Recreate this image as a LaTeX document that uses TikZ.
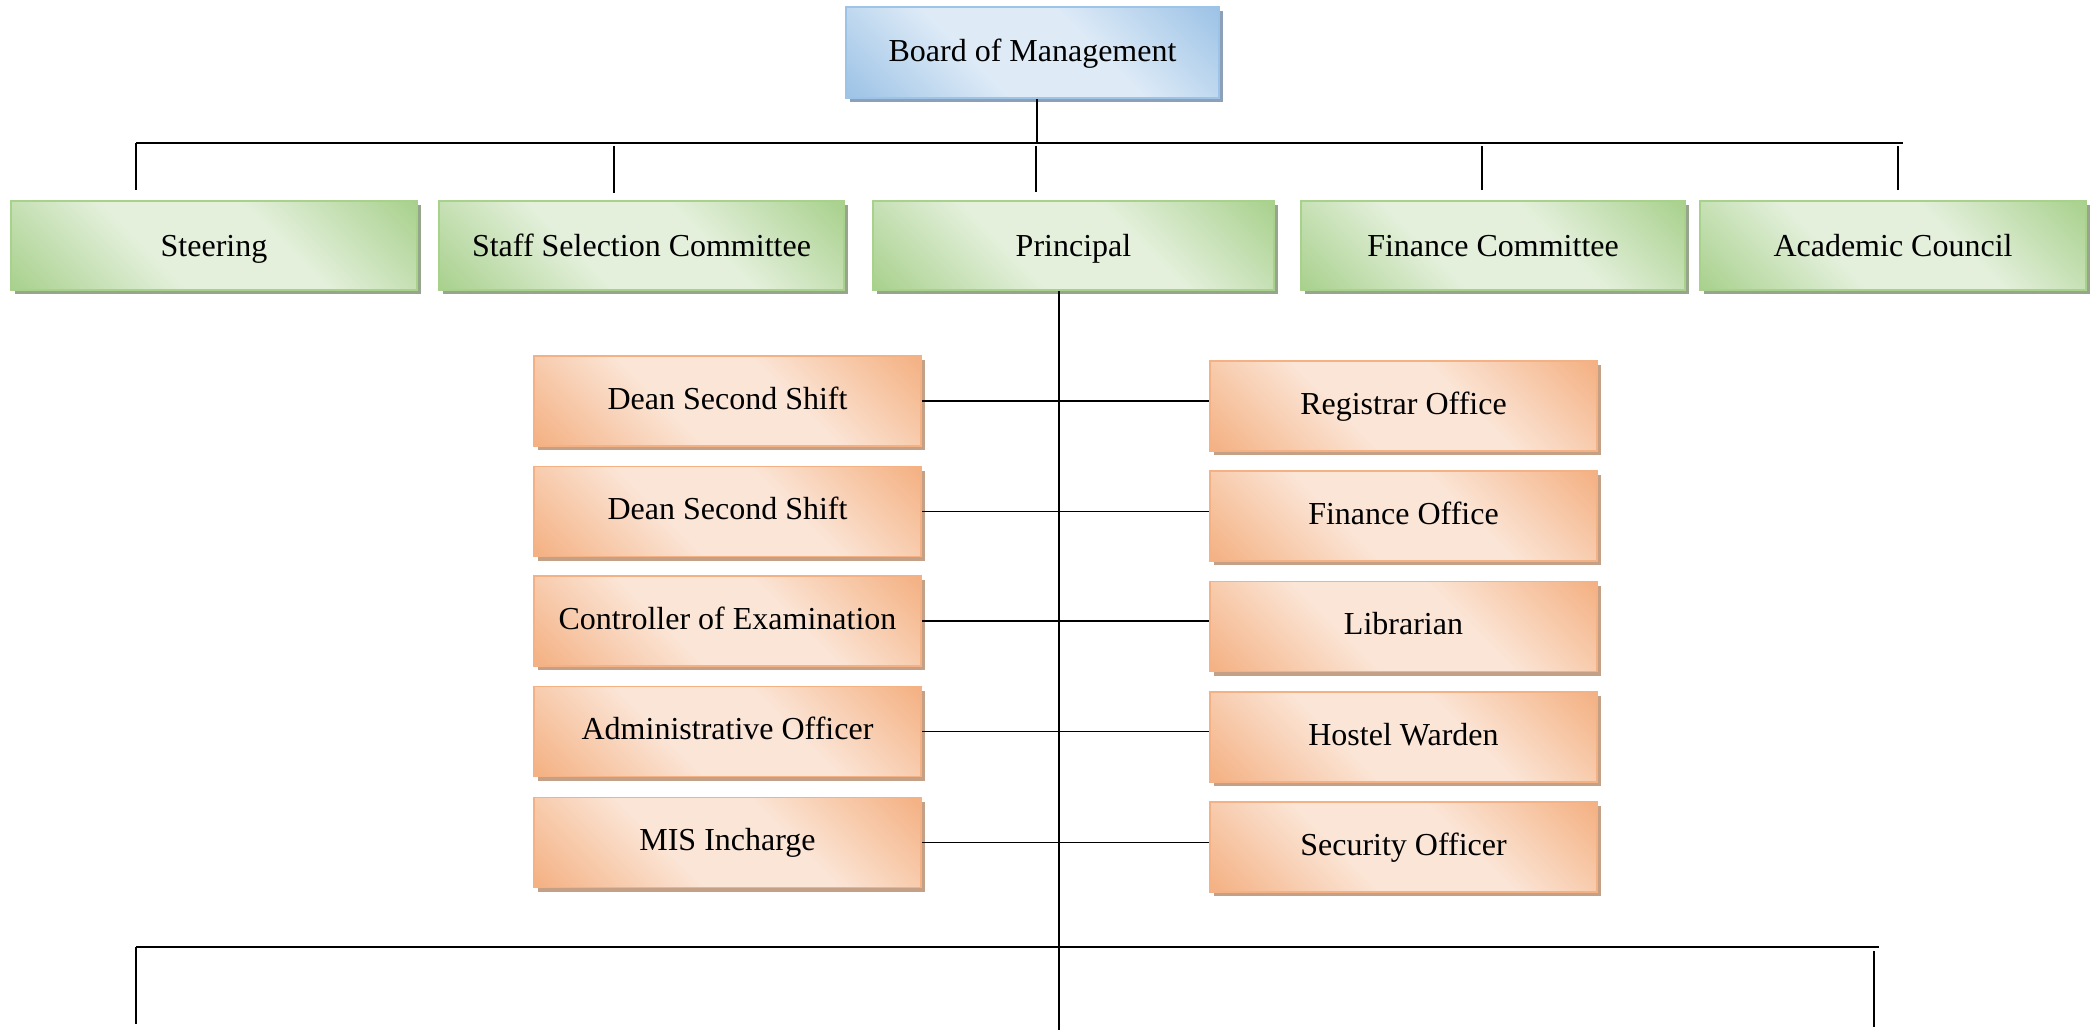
\documentclass[tikz,border=0pt]{standalone}
\usepackage{fontspec}
\setmainfont{Liberation Serif}
\usetikzlibrary{shadows}
\definecolor{gdark}{RGB}{169,209,142}
\definecolor{glight}{RGB}{228,240,220}
\definecolor{gborder}{RGB}{168,210,140}
\definecolor{gshadow}{RGB}{150,165,140}
\definecolor{bdark}{RGB}{157,195,230}
\definecolor{blight}{RGB}{222,235,247}
\definecolor{bborder}{RGB}{157,195,230}
\definecolor{bshadow}{RGB}{140,160,185}
\definecolor{odark}{RGB}{244,177,131}
\definecolor{olight}{RGB}{251,229,214}
\definecolor{oborder}{RGB}{244,177,131}
\definecolor{oshadow}{RGB}{196,160,134}
\pgfdeclareverticalshading{gshade}{100bp}{color(0bp)=(gdark); color(15bp)=(gdark); color(40bp)=(glight); color(60bp)=(glight); color(85bp)=(gdark); color(100bp)=(gdark)}
\pgfdeclareverticalshading{bshade}{100bp}{color(0bp)=(bdark); color(15bp)=(bdark); color(40bp)=(blight); color(60bp)=(blight); color(85bp)=(bdark); color(100bp)=(bdark)}
\pgfdeclareverticalshading{oshade}{100bp}{color(0bp)=(odark); color(15bp)=(odark); color(40bp)=(olight); color(60bp)=(olight); color(85bp)=(odark); color(100bp)=(odark)}
\begin{document}
\begin{tikzpicture}[x=0.5pt,y=-0.5pt,
  box/.style={rectangle, inner sep=0pt, align=center, font=\fontsize{16}{19}\selectfont, line width=0.8pt, text height=11pt, text depth=3pt},
  greenbox/.style={box, draw=gborder, shading=gshade, shading angle=-45, text height=13.5pt,
     drop shadow={shadow xshift=2pt, shadow yshift=-2pt, fill=gshadow, opacity=1}, minimum height=44.5pt},
  bluebox/.style={box, draw=bborder, shading=bshade, shading angle=-45, text height=12.4pt,
     drop shadow={shadow xshift=2pt, shadow yshift=-2pt, fill=bshadow, opacity=1}, minimum height=45.5pt, minimum width=186.5pt},
  orangebox/.style={box, draw=oborder, shading=oshade, shading angle=-45,
     drop shadow={shadow xshift=2pt, shadow yshift=-2pt, fill=oshadow, opacity=1}, minimum height=45pt, minimum width=193.5pt},
  conn/.style={draw=black, line width=0.85pt}]
\useasboundingbox (0,0) rectangle (2094,1033);
% top
\node[bluebox] (board) at (1032.5,52.5) {Board of Management};
% green row
\node[greenbox, minimum width=203pt] (steer) at (214,245.5) {Steering};
\node[greenbox, minimum width=202.5pt] (staff) at (641.5,245.5) {Staff Selection Committee};
\node[greenbox, minimum width=200.5pt] (princ) at (1073.5,245.5) {Principal};
\node[greenbox, minimum width=192pt] (fin) at (1493,245.5) {Finance Committee};
\node[greenbox, minimum width=193pt] (acad) at (1893,245.5) {Academic Council};
% orange left
\node[orangebox] (l1) at (727.5,401) {Dean Second Shift};
\node[orangebox] (l2) at (727.5,511.5) {Dean Second Shift};
\node[orangebox] (l3) at (727.5,621) {Controller of Examination};
\node[orangebox] (l4) at (727.5,731.5) {Administrative Officer};
\node[orangebox] (l5) at (727.5,842.5) {MIS Incharge};
% orange right
\node[orangebox] (r1) at (1403.5,406) {Registrar Office};
\node[orangebox] (r2) at (1403.5,516) {Finance Office};
\node[orangebox] (r3) at (1403.5,626.5) {Librarian};
\node[orangebox] (r4) at (1403.5,737) {Hostel Warden};
\node[orangebox] (r5) at (1403.5,847) {Security Officer};
% top bus
\coordinate (busL) at (136,143);
\coordinate (busR) at (1903,143);
\coordinate (bdrop) at (1037,143);
\coordinate (s1) at (136,190);
\coordinate (s2a) at (614,146);
\coordinate (s2) at (614,193);
\coordinate (s3a) at (1036,146);
\coordinate (s3) at (1036,192);
\coordinate (s4a) at (1482,146);
\coordinate (s4) at (1482,190);
\coordinate (s5a) at (1898,146);
\coordinate (s5) at (1898,190);
\draw[conn] (bdrop |- board.south) -- (bdrop);
\draw[conn] (busL) -- (busR);
\draw[conn] (busL) -- (s1);
\draw[conn] (s2a) -- (s2);
\draw[conn] (s3a) -- (s3);
\draw[conn] (s4a) -- (s4);
\draw[conn] (s5a) -- (s5);
% principal trunk
\coordinate (pbot) at (1059,1030);
\draw[conn] (pbot |- princ.south) -- (pbot);
% branches
\foreach \i in {1,...,5} {
  \draw[conn] (l\i.east) -- (l\i.east -| r\i.west);
}
% bottom bus
\coordinate (bbL) at (136,947);
\coordinate (bbR) at (1879,947);
\coordinate (bbLd) at (136,1024);
\coordinate (bbRa) at (1874,951);
\coordinate (bbRd) at (1874,1027);
\draw[conn] (bbL) -- (bbR);
\draw[conn] (bbL) -- (bbLd);
\draw[conn] (bbRa) -- (bbRd);
\end{tikzpicture}
\end{document}
